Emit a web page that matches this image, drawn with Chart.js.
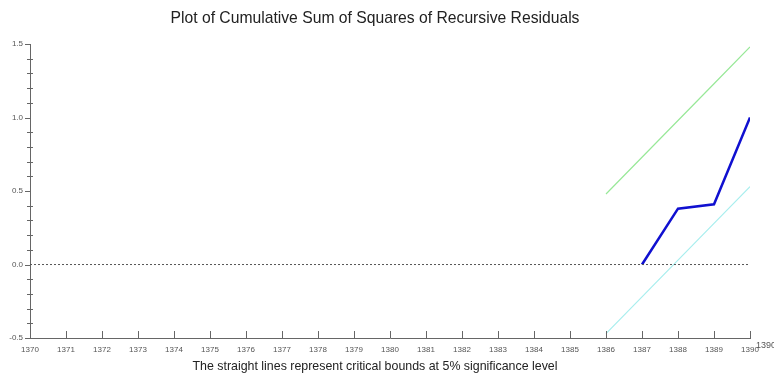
<!DOCTYPE html>
<html>
<head>
<meta charset="utf-8">
<script src="https://cdn.jsdelivr.net/npm/chart.js@4.4.1/dist/chart.umd.min.js"></script>
<style>
    html, body { margin: 0; padding: 0; background: #fff; }
    #wrap { width: 774px; height: 380px; }
</style>
</head>
<body>
<div id="wrap"><canvas id="cusumsq" width="774" height="380"></canvas></div>
<script>
// values
const boundYears = [1386, 1387, 1388, 1389, 1390];
const upperBound = [0.48, 0.73, 0.98, 1.23, 1.48];
const lowerBound = [-0.47, -0.22, 0.03, 0.28, 0.53];
const cusumYears = [1387, 1388, 1389, 1390];
const cusumSq = [0.0, 0.38, 0.41, 1.0];
const zeroYears = [1370, 1390];
const zeroLine = [0, 0];
const xRange = [1370, 1390];
const yRange = [-0.5, 1.5];

function toPoints(xs, ys) {
    return xs.map((x, i) => ({ x: x, y: ys[i] }));
}

const axisColor = '#666';
const labelColor = '#555';
const fontFamily = '"Liberation Sans", Arial, sans-serif';

// draws the little tick marks like the original plot (inside on x, crossing on y)
const tickMarks = {
    id: 'tickMarks',
    afterDraw(chart) {
        const ctx = chart.ctx;
        const xs = chart.scales.x;
        const ys = chart.scales.y;
        const left = chart.chartArea.left;
        const bottom = chart.chartArea.bottom;
        ctx.save();
        ctx.strokeStyle = axisColor;
        ctx.lineWidth = 1;
        ctx.beginPath();
        for (let v = xRange[0] + 1; v <= xRange[1]; v++) {
            const px = Math.round(xs.getPixelForValue(v)) + 0.5;
            ctx.moveTo(px, bottom);
            ctx.lineTo(px, bottom - 7);
        }
        for (let i = 0; i <= 20; i++) {
            const v = yRange[0] + i * 0.1;
            const py = Math.round(ys.getPixelForValue(v)) + 0.5;
            if (i % 5 === 0) {
                ctx.moveTo(left - 5, py);
                ctx.lineTo(left, py);
            } else {
                ctx.moveTo(left - 3, py);
                ctx.lineTo(left + 3, py);
            }
        }
        ctx.stroke();

        // stray label clipped at the right edge in the original
        ctx.fillStyle = labelColor;
        ctx.font = '9px ' + fontFamily;
        ctx.textBaseline = 'middle';
        ctx.fillText(String(xRange[1]), 756, 346);
        ctx.restore();
    }
};

new Chart(document.getElementById('cusumsq').getContext('2d'), {
    type: 'line',
    data: {
        datasets: [
            {
                label: 'zero',
                data: toPoints(zeroYears, zeroLine),
                borderColor: '#555',
                borderWidth: 1,
                borderDash: [2, 2],
                pointRadius: 0
            },
            {
                label: 'Upper bound',
                data: toPoints(boundYears, upperBound),
                borderColor: '#98e898',
                borderWidth: 1.2,
                pointRadius: 0
            },
            {
                label: 'Lower bound',
                data: toPoints(boundYears, lowerBound),
                borderColor: '#a8eeee',
                borderWidth: 1.2,
                pointRadius: 0
            },
            {
                label: 'CUSUM of squares',
                data: toPoints(cusumYears, cusumSq),
                borderColor: '#1010d0',
                borderWidth: 2.5,
                pointRadius: 0
            }
        ]
    },
    options: {
        responsive: false,
        animation: false,
        layout: { padding: { left: 0, right: 24, top: 0, bottom: 0 } },
        elements: { line: { tension: 0 } },
        plugins: {
            legend: { display: false },
            tooltip: { enabled: false },
            title: {
                display: true,
                text: 'Plot of Cumulative Sum of Squares of Recursive Residuals',
                color: '#222',
                font: { family: fontFamily, size: 15.7, weight: 'normal', lineHeight: 1.2 },
                padding: { top: 9, bottom: 16.2 }
            },
            subtitle: {
                display: true,
                position: 'bottom',
                text: 'The straight lines represent critical bounds at 5% significance level',
                color: '#222',
                font: { family: fontFamily, size: 12.4, weight: 'normal', lineHeight: 1.2 },
                padding: { top: 1, bottom: 6.1 }
            }
        },
        scales: {
            x: {
                type: 'linear',
                min: xRange[0],
                max: xRange[1],
                afterFit: s => { s.height = 20; },
                border: { display: true, color: axisColor, width: 1 },
                grid: { display: false, drawTicks: false },
                ticks: {
                    stepSize: 1,
                    autoSkip: false,
                    maxRotation: 0,
                    padding: 7,
                    color: labelColor,
                    font: { family: fontFamily, size: 8 },
                    callback: v => String(v)
                }
            },
            y: {
                min: yRange[0],
                max: yRange[1],
                afterFit: s => { s.width = 30; },
                border: { display: true, color: axisColor, width: 1 },
                grid: { display: false, drawTicks: false },
                ticks: {
                    stepSize: 0.5,
                    padding: 7,
                    color: labelColor,
                    font: { family: fontFamily, size: 8 },
                    callback: v => Number(v).toFixed(1)
                }
            }
        }
    },
    plugins: [tickMarks]
});
</script>
</body>
</html>
